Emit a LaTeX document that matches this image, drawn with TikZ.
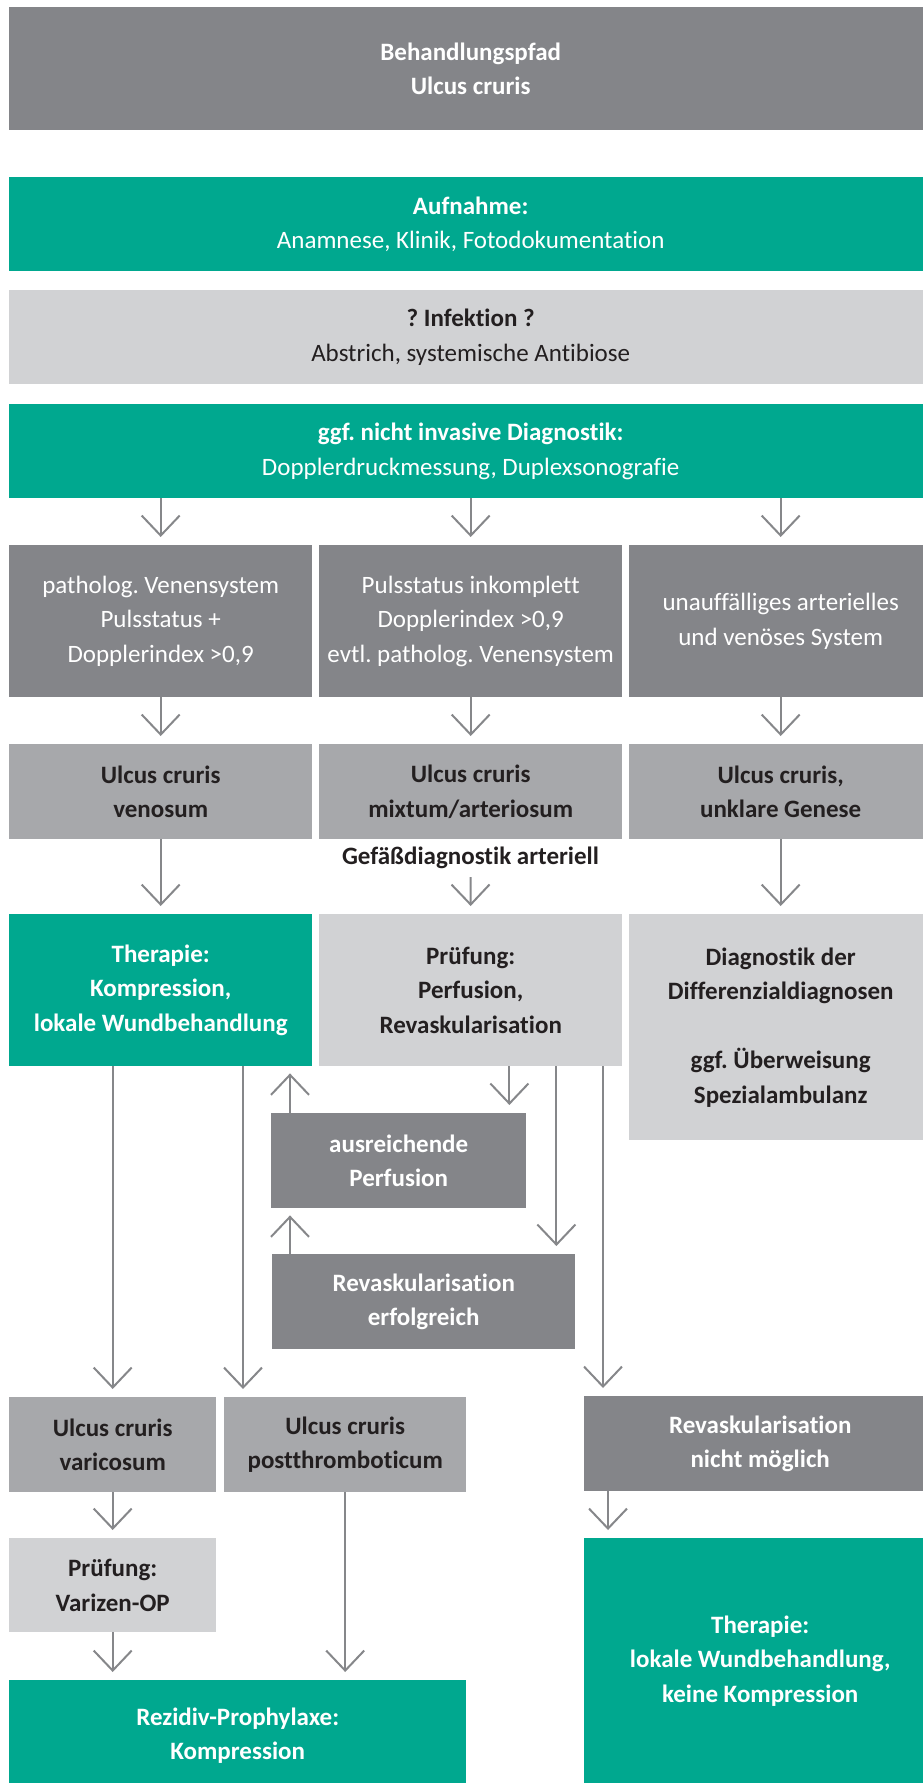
\documentclass[tikz,border=0pt]{standalone}
\usepackage{fontspec}
\setmainfont[Ligatures=NoCommon]{Carlito}
\usetikzlibrary{arrows.meta}
\usetikzlibrary{calc}
\usepackage{xcolor}
\frenchspacing

\definecolor{tuerkis}{HTML}{00A88F}
\definecolor{dunkelgrau}{HTML}{848589}
\definecolor{mittelgrau}{HTML}{A7A8AB}
\definecolor{hellgrau}{HTML}{D1D2D4}
\definecolor{pfeilgrau}{HTML}{86878A}
\definecolor{textdunkel}{HTML}{231F20}
\newcommand{\schrift}{\fontsize{25}{34.5}\selectfont}

\begin{document}
\begin{tikzpicture}[x=1pt, y=-1pt]
  \tikzstyle{feld} = [rectangle, inner sep=0pt, align=center, anchor=north west, font=\schrift]
  \tikzstyle{gruen} = [feld, fill=tuerkis, text=white]
  \tikzstyle{dunkel} = [feld, fill=dunkelgrau, text=white]
  \tikzstyle{mittel} = [feld, fill=mittelgrau, text=textdunkel]
  \tikzstyle{hell} = [feld, fill=hellgrau, text=textdunkel]
  \tikzstyle{pfeil} = [draw=pfeilgrau, line width=2pt,
  -{Straight Barb[length=20pt,width=38pt]}, shorten >=8pt]

\useasboundingbox (0,0) rectangle (922,1783);

% kopf
\node[dunkel, minimum width=923, minimum height=123, font=\schrift\bfseries]
  (titel) at (9,7) {Behandlungspfad\\Ulcus cruris};
\node[gruen, minimum width=923, minimum height=94]
  (aufnahme) at (9,177) {\textbf{Aufnahme:}\\Anamnese, Klinik, Fotodokumentation};
\node[hell, minimum width=923, minimum height=94]
  (infektion) at (9,290) {\textbf{? Infektion ?}\\Abstrich, systemische Antibiose};
\node[gruen, minimum width=923, minimum height=94]
  (diagnostik) at (9,404) {\textbf{ggf. nicht invasive Diagnostik:}\\Dopplerdruckmessung, Duplexsonografie};

% befunde
\node[dunkel, minimum width=303, minimum height=152]
  (befund1) at (9,545) {patholog. Venensystem\\Pulsstatus +\\Dopplerindex >0,9};
\node[dunkel, minimum width=303, minimum height=152]
  (befund2) at (319,545) {Pulsstatus inkomplett\\Dopplerindex >0,9\\evtl. patholog. Venensystem};
\node[dunkel, minimum width=303, minimum height=152]
  (befund3) at (629,545) {unauffälliges arterielles\\und venöses System};

\node[mittel, minimum width=303, minimum height=95, font=\schrift\bfseries]
  (ulcus1) at (9,744) {Ulcus cruris\\venosum};
\node[mittel, minimum width=303, minimum height=95, font=\schrift\bfseries]
  (ulcus2) at (319,744) {Ulcus cruris\\mixtum/arteriosum};
\node[mittel, minimum width=303, minimum height=95, font=\schrift\bfseries]
  (ulcus3) at (629,744) {Ulcus cruris,\\unklare Genese};

\node[font=\schrift\bfseries, text=textdunkel, inner sep=2pt] (gefaess) at (470.5,858) {Gefäßdiagnostik arteriell};

% therapie / pruefung
\node[gruen, minimum width=303, minimum height=152, font=\schrift\bfseries]
  (therapie1) at (9,914) {Therapie:\\Kompression,\\lokale Wundbehandlung};
\node[hell, minimum width=303, minimum height=152, font=\schrift\bfseries]
  (pruefung2) at (319,914) {Prüfung:\\Perfusion,\\Revaskularisation};
\node[hell, minimum width=303, minimum height=226, font=\schrift\bfseries]
  (differenz) at (629,914) {Diagnostik der\\Differenzialdiagnosen\\[34.5pt]ggf. Überweisung\\Spezialambulanz};

\node[dunkel, minimum width=255, minimum height=95, font=\schrift\bfseries]
  (ausreichend) at (271,1113) {ausreichende\\Perfusion};
\node[dunkel, minimum width=303, minimum height=95, font=\schrift\bfseries]
  (erfolgreich) at (272,1254) {Revaskularisation\\erfolgreich};

% unten
\node[mittel, minimum width=207, minimum height=95, font=\schrift\bfseries]
  (varicosum) at (9,1397) {Ulcus cruris\\varicosum};
\node[mittel, minimum width=242, minimum height=95, font=\schrift\bfseries]
  (postthromb) at (224,1397) {Ulcus cruris\\postthromboticum};
\node[dunkel, minimum width=352, minimum height=95, font=\schrift\bfseries]
  (nichtmoeglich) at (584,1396) {Revaskularisation\\nicht möglich};

\node[hell, minimum width=207, minimum height=94, font=\schrift\bfseries]
  (varizenop) at (9,1538) {Prüfung:\\Varizen-OP};
\node[gruen, minimum width=457, minimum height=111, font=\schrift\bfseries]
  (rezidiv) at (9,1680) {Rezidiv-Prophylaxe:\\Kompression};
\node[gruen, minimum width=352, minimum height=245, font=\schrift\bfseries]
  (therapie3) at (584,1538) {Therapie:\\lokale Wundbehandlung,\\keine Kompression};

% pfeile oben
\foreach \n in {1,2,3}
  \draw[pfeil] (diagnostik.south -| befund\n.north) -- (befund\n.north);
\foreach \n in {1,2,3}
  \draw[pfeil] (befund\n.south) -- (ulcus\n.north);
\draw[pfeil] (ulcus1.south) -- (therapie1.north);
\draw[pfeil, shorten <=6pt] (gefaess.south) -- (pruefung2.north);
\draw[pfeil] (ulcus3.south) -- (differenz.north);

% pfeile mitte
\draw[pfeil] (therapie1.south -| varicosum.north) -- (varicosum.north);
\draw[pfeil] ([xshift=19pt]postthromb.north west |- therapie1.south) -- ([xshift=19pt]postthromb.north west);
\draw[pfeil, shorten >=7pt] ([xshift=19pt]ausreichend.north west) -- ([xshift=19pt]ausreichend.north west |- therapie1.south);
\draw[pfeil] ([xshift=-17pt]ausreichend.north east |- pruefung2.south) -- ([xshift=-17pt]ausreichend.north east);
\draw[pfeil] ([xshift=-19pt]erfolgreich.north east |- pruefung2.south) -- ([xshift=-19pt]erfolgreich.north east);
\draw[pfeil] ([xshift=19pt]nichtmoeglich.north west |- pruefung2.south) -- ([xshift=19pt]nichtmoeglich.north west);
\draw[pfeil, shorten >=7pt] ([xshift=18pt]erfolgreich.north west) -- ([xshift=18pt]erfolgreich.north west |- ausreichend.south);

% pfeile unten
\draw[pfeil] (varicosum.south) -- (varizenop.north);
\draw[pfeil] (varizenop.south) -- (varizenop.south |- rezidiv.north);
\draw[pfeil] (postthromb.south) -- (postthromb.south |- rezidiv.north);
\draw[pfeil] ([xshift=24pt]nichtmoeglich.south west) -- ([xshift=24pt]nichtmoeglich.south west |- therapie3.north);

\end{tikzpicture}
\end{document}
